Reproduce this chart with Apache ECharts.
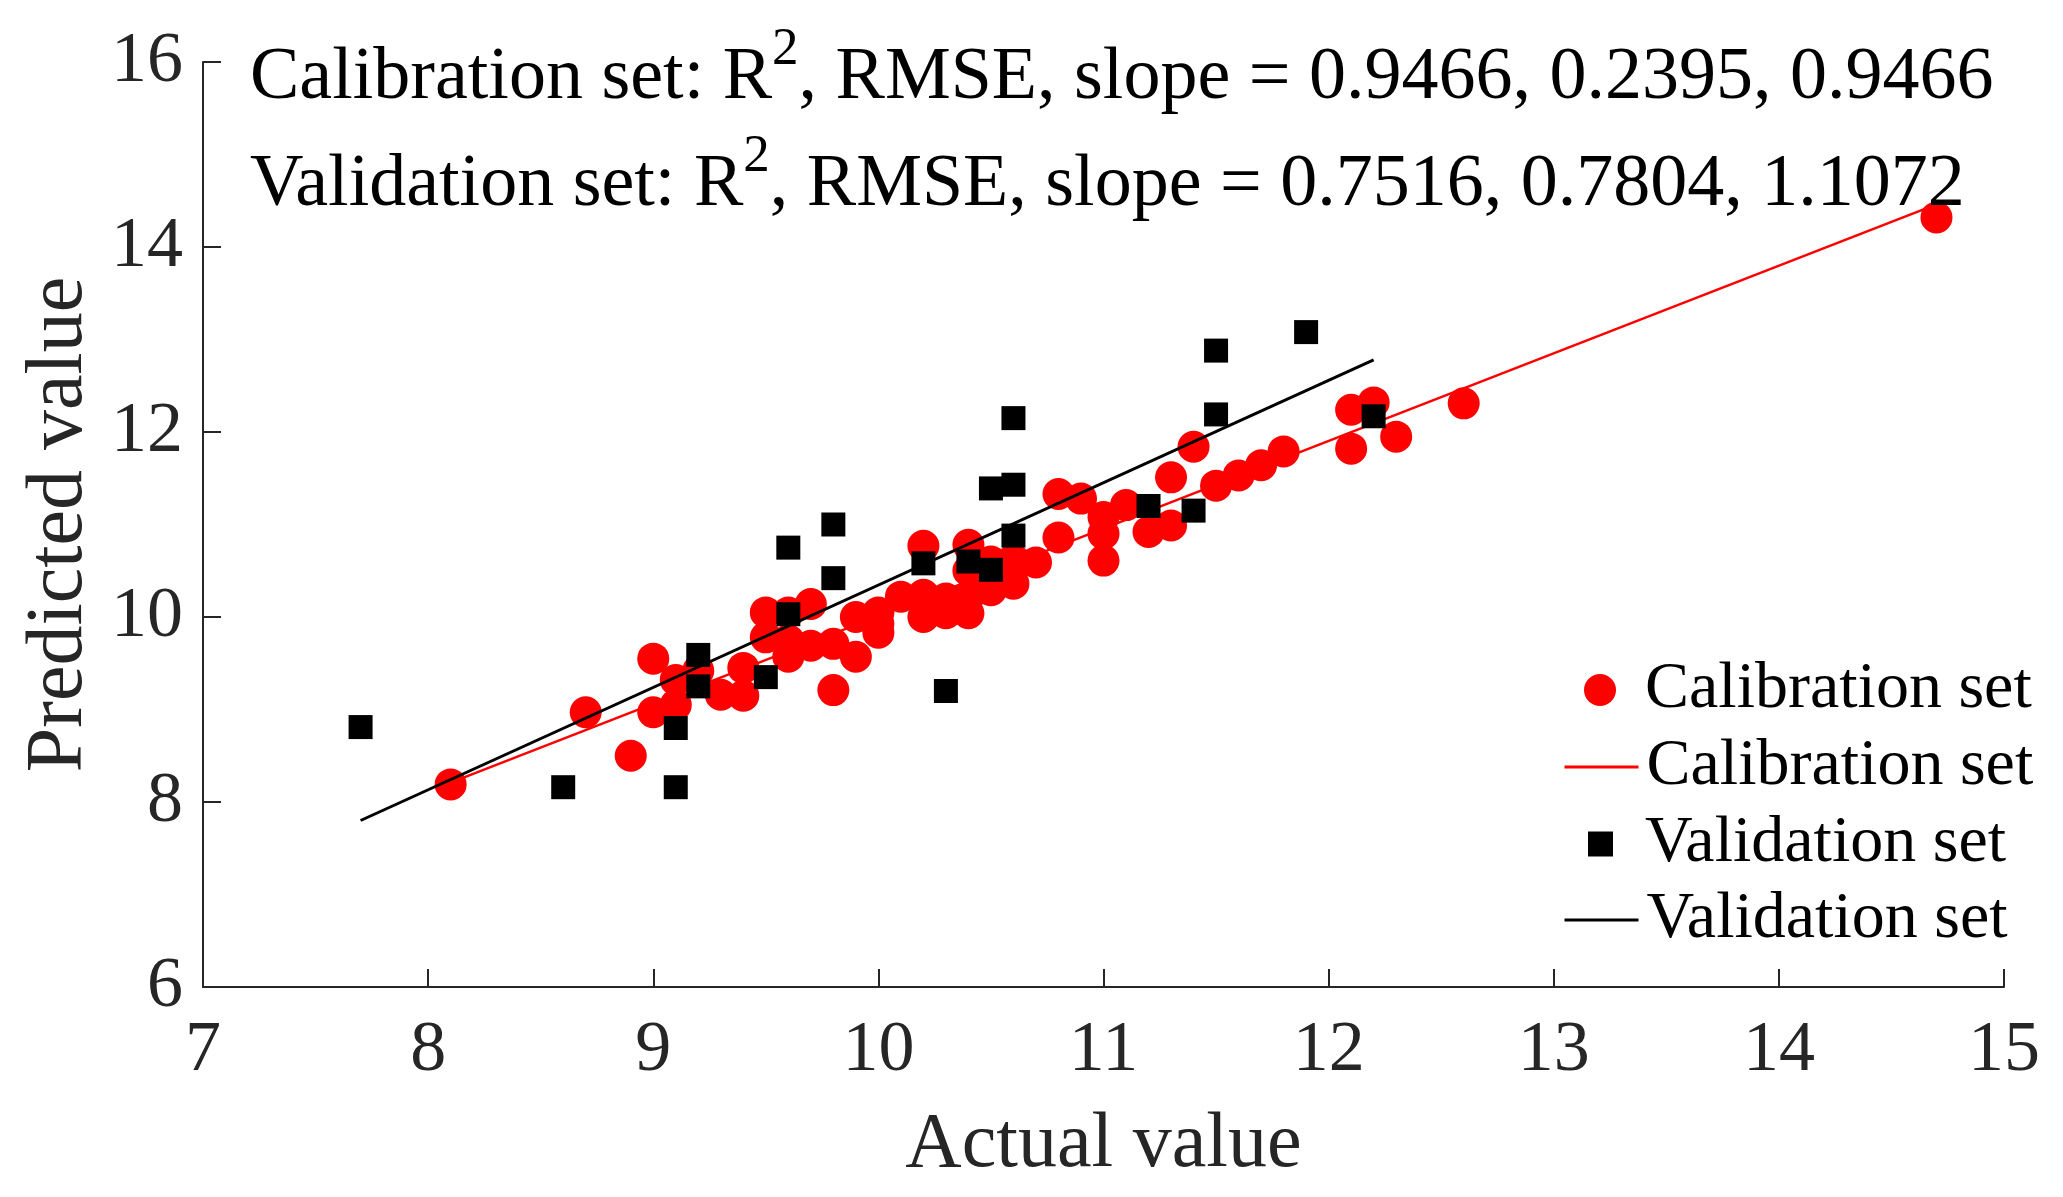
<!DOCTYPE html>
<html>
<head>
<meta charset="utf-8">
<script src="https://cdn.jsdelivr.net/npm/echarts@6/dist/echarts.min.js"></script>
<style>
html,body{margin:0;padding:0;background:#fff;}
#chart{width:2063px;height:1197px;}
</style>
</head>
<body>
<div id="chart"></div>
<script>
// Calibration set (actual, predicted)
const calActual = [8.1, 8.7, 8.9, 9.0, 9.0, 9.1, 9.1, 9.2, 9.3, 9.4, 9.4, 9.5, 9.5, 9.6, 9.6, 9.6, 9.7, 9.7, 9.8, 9.8,
  9.9, 9.9, 10.0, 10.0, 10.0, 10.1, 10.2, 10.2, 10.2, 10.3, 10.3, 10.4, 10.4, 10.4, 10.4, 10.5, 10.5, 10.6, 10.6, 10.7,
  10.8, 10.8, 10.9, 11.0, 11.0, 11.0, 11.1, 11.2, 11.3, 11.3, 11.4, 11.5, 11.6, 11.7, 11.8, 12.1, 12.1, 12.2, 12.3, 12.6, 14.7];
const calPredicted = [8.19, 8.97, 8.50, 9.55, 8.97, 9.32, 9.05, 9.42, 9.16, 9.15, 9.45, 10.05, 9.78, 10.05, 9.57, 9.75, 10.14, 9.69, 9.21, 9.71,
  9.57, 10.00, 9.93, 9.83, 10.05, 10.22, 10.77, 10.24, 10.00, 10.04, 10.20, 10.78, 10.04, 10.22, 10.50, 10.29, 10.60, 10.36, 10.62, 10.59,
  10.86, 11.33, 11.28, 10.61, 10.90, 11.08, 11.21, 10.92, 10.99, 11.51, 11.84, 11.42, 11.53, 11.64, 11.79, 12.24, 11.82, 12.32, 11.95, 12.31, 14.32];
// Validation set (actual, predicted)
const valActual = [7.7, 8.6, 9.1, 9.1, 9.2, 9.2, 9.5, 9.6, 9.6, 9.8, 9.8, 10.2, 10.3, 10.4, 10.5, 10.5, 10.6, 10.6, 10.6, 11.2, 11.4, 11.5, 11.5, 11.9, 12.2];
const valPredicted = [8.81, 8.16, 8.80, 8.16, 9.59, 9.25, 9.35, 10.75, 10.03, 11.00, 10.42, 10.58, 9.20, 10.60, 10.51, 11.39, 11.43, 12.15, 10.88, 11.20, 11.15, 12.88, 12.19, 13.08, 12.17];
// Fitted lines (endpoints)
const calLineX = [8.1, 14.7];
const calLineY = [8.21, 14.46];
const valLineX = [7.7, 12.2];
const valLineY = [7.80, 12.78];
// Annotation values
const calStats = ['0.9466', '0.2395', '0.9466'];
const valStats = ['0.7516', '0.7804', '1.1072'];

const FONT = "'Liberation Serif','Times New Roman',serif";
const AX = '#262626';
const zip = (a, b) => a.map((v, i) => [v, b[i]]);

const richStyle = {
  t: { fontFamily: FONT, fontSize: 74, fontWeight: 'normal', lineHeight: 92, color: '#000', verticalAlign: 'bottom' },
  s: { fontFamily: FONT, fontSize: 53, fontWeight: 'normal', lineHeight: 30, color: '#000', verticalAlign: 'top' }
};
const statText = (label, st) => '{t|' + label + ': R}{s|2}{t|, RMSE, slope = ' + st.join(', ') + '}';

const chart = echarts.init(document.getElementById('chart'));
chart.setOption({
  backgroundColor: '#fff',
  animation: false,
  title: [
    { text: statText('Calibration set', calStats), left: 250, top: 24, padding: 0,
      textStyle: { rich: richStyle, fontWeight: 'normal', fontFamily: FONT, fontSize: 74 } },
    { text: statText('Validation set', valStats), left: 250, top: 131, padding: 0,
      textStyle: { rich: richStyle, fontWeight: 'normal', fontFamily: FONT, fontSize: 74 } }
  ],
  grid: { left: 203, right: 59, top: 62, bottom: 210, containLabel: false },
  xAxis: {
    type: 'value', min: 7, max: 15, interval: 1,
    name: 'Actual value', nameLocation: 'middle', nameGap: 120,
    nameTextStyle: { fontFamily: FONT, fontSize: 78, color: AX },
    axisLine: { show: true, lineStyle: { color: AX, width: 2 } },
    axisTick: { show: true, inside: true, length: 18, lineStyle: { color: AX, width: 2 } },
    axisLabel: { fontFamily: FONT, fontSize: 72, color: AX, margin: 28 },
    splitLine: { show: false }
  },
  yAxis: {
    type: 'value', min: 6, max: 16, interval: 2,
    name: 'Predicted value', nameLocation: 'middle', nameGap: 83, nameRotate: 90,
    nameTextStyle: { fontFamily: FONT, fontSize: 80, color: AX },
    axisLine: { show: true, lineStyle: { color: AX, width: 2 } },
    axisTick: { show: true, inside: true, length: 18, lineStyle: { color: AX, width: 2 } },
    axisLabel: { fontFamily: FONT, fontSize: 72, color: AX, margin: 20 },
    splitLine: { show: false }
  },
  legend: [
    { data: ['Calibration set'], orient: 'vertical', left: 1584, top: 657, padding: 0,
      itemWidth: 32, itemHeight: 32, selectedMode: false, icon: 'circle',
      textStyle: { fontFamily: FONT, fontSize: 66, lineHeight: 66, color: '#000', padding: [0, 0, 0, 24] } },
    { data: ['Calibration set '], orient: 'vertical', left: 1563, top: 734, padding: 0,
      itemWidth: 74, itemHeight: 32, selectedMode: false,
      itemStyle: { color: 'rgba(0,0,0,0)', borderWidth: 0, opacity: 0 },
      lineStyle: { width: 3 },
      textStyle: { fontFamily: FONT, fontSize: 66, lineHeight: 66, color: '#000', padding: [0, 0, 0, 3] } },
    { data: ['Validation set'], orient: 'vertical', left: 1588, top: 811, padding: 0,
      itemWidth: 25, itemHeight: 25, selectedMode: false, icon: 'rect',
      textStyle: { fontFamily: FONT, fontSize: 66, lineHeight: 66, color: '#000', padding: [0, 0, 0, 27] } },
    { data: ['Validation set '], orient: 'vertical', left: 1563, top: 887, padding: 0,
      itemWidth: 74, itemHeight: 32, selectedMode: false,
      itemStyle: { color: 'rgba(0,0,0,0)', borderWidth: 0, opacity: 0 },
      lineStyle: { width: 3 },
      textStyle: { fontFamily: FONT, fontSize: 66, lineHeight: 66, color: '#000', padding: [0, 0, 0, 3] } }
  ],
  series: [
    { name: 'Calibration set', type: 'scatter', symbol: 'circle', symbolSize: 32,
      itemStyle: { color: '#ff0000', opacity: 1 }, data: zip(calActual, calPredicted), z: 2 },
    { name: 'Calibration set ', type: 'line', symbol: 'none', showSymbol: false,
      lineStyle: { color: '#ff0000', width: 2.5 }, itemStyle: { color: '#ff0000' },
      data: zip(calLineX, calLineY), z: 3 },
    { name: 'Validation set', type: 'scatter', symbol: 'rect', symbolSize: 24,
      itemStyle: { color: '#000', opacity: 1 }, data: zip(valActual, valPredicted), z: 4 },
    { name: 'Validation set ', type: 'line', symbol: 'none', showSymbol: false,
      lineStyle: { color: '#000', width: 3 }, itemStyle: { color: '#000' },
      data: zip(valLineX, valLineY), z: 5 }
  ]
});
</script>
</body>
</html>
